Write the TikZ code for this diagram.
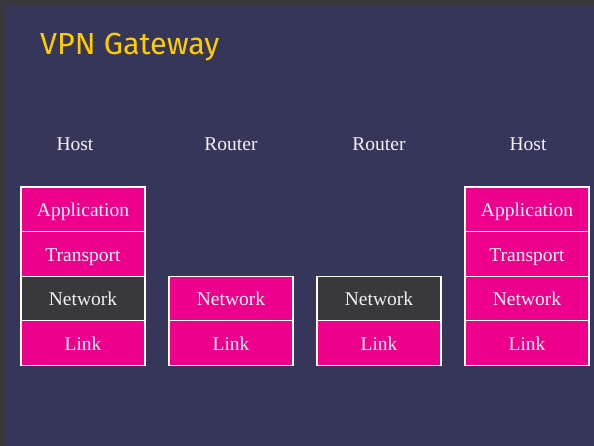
\documentclass[tikz,border=0pt]{standalone}
\usepackage{fontspec}
\setmainfont{Liberation Serif}
\newfontfamily\titlefont{Fira Sans}
\usepackage{xcolor}
\usepackage{tikz}
\definecolor{VPNSlide}{HTML}{36365B}
\definecolor{VPNEdge}{HTML}{38383C}
\definecolor{VPNGold}{HTML}{FFCC00}
\definecolor{VPNMagenta}{HTML}{EC008C}
\definecolor{VPNDark}{HTML}{38383D}
\definecolor{VPNText}{HTML}{F2F2F2}

\begin{document}
\begin{tikzpicture}[
  x=1pt,y=-1pt,
  font=\fontsize{19.5}{23}\selectfont,
  layer/.style={rectangle,draw=white,line width=1.2pt,fill=VPNMagenta,text=VPNText,minimum width=124pt,minimum height=44.6pt,inner sep=0pt,text height=14.6pt,text depth=0pt},
  secure/.style={layer,fill=VPNDark},
  machine/.style={text=VPNText,anchor=base,inner sep=0pt}
]
\useasboundingbox (0,0) rectangle (594,446);
\fill[VPNEdge] (0,0) rectangle (594,446);
\fill[VPNSlide] (6,5) rectangle (594,446);

\node[anchor=base west,text=VPNGold,inner sep=0pt,font=\titlefont\fontsize{30.5}{36}\selectfont] (title) at (40,55) {VPN Gateway};

% machine labels
\node[machine] (hostA) at (75,151) {Host};
\node[machine] (routerA) at (231,151) {Router};
\node[machine] (routerB) at (379,151) {Router};
\node[machine] (hostB) at (528,151) {Host};

% upper layers, hosts only
\node[layer] (hostAapp) at (83,209.3) {Application};
\node[layer] (hostAtrans) at (83,253.9) {Transport};
\node[layer] (hostBapp) at (527,209.3) {Application};
\node[layer] (hostBtrans) at (527,253.9) {Transport};

% network and link layers
\foreach \m/\x/\s in {hostA/83/secure,routerA/231/layer,routerB/379/secure,hostB/527/layer} {
  \node[\s] (\m net) at (\x,298.5) {Network};
  \node[layer] (\m link) at (\x,343.1) {Link};
}
\end{tikzpicture}
\end{document}
